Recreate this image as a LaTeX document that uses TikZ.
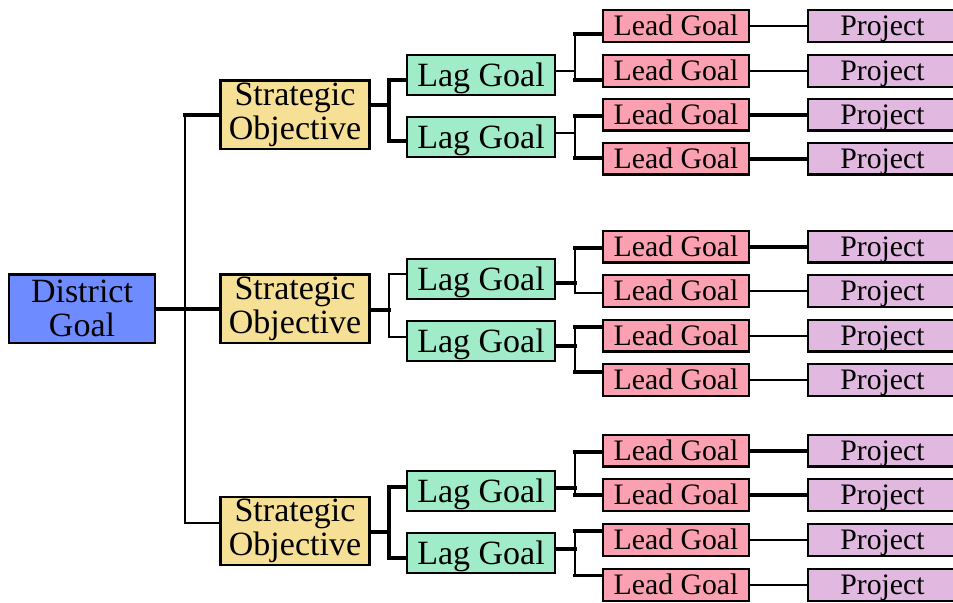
\documentclass[tikz,border=0pt]{standalone}
\usepackage{fontspec}
\setmainfont{Liberation Serif}
\usetikzlibrary{calc,backgrounds}
\definecolor{districtblue}{HTML}{6E8CFF}
\definecolor{objgold}{HTML}{F5E096}
\definecolor{lagmint}{HTML}{A0ECC8}
\definecolor{leadpink}{HTML}{FAA0B0}
\definecolor{projlilac}{HTML}{E0B8E0}
\begin{document}
\begin{tikzpicture}[x=0.75pt,y=-0.75pt,
  box/.style={draw=black,line width=1.6pt,rectangle,inner sep=0pt,align=center,text=black},
  big/.style={font=\fontsize{25.5}{25.5}\selectfont},
  small/.style={font=\fontsize{22.3}{22.3}\selectfont},
  oneline/.style={text height=#1,text depth=0pt},
  district/.style={box,big,fill=districtblue,minimum width=109.5pt,minimum height=51.4pt},
  strategic/.style={box,big,fill=objgold,minimum width=111.75pt,minimum height=51.4pt},
  lag/.style={box,big,oneline=16.9pt,fill=lagmint,minimum width=111pt,minimum height=30pt},
  lead/.style={box,small,oneline=14.8pt,fill=leadpink,minimum width=109.5pt,minimum height=23.6pt},
  project/.style={box,small,oneline=14.8pt,fill=projlilac,minimum width=111.75pt,minimum height=23.6pt},
  thk/.style={line width=2.8pt,line cap=rect},
  thn/.style={line width=1.5pt,line cap=rect}]
\useasboundingbox (0,0) rectangle (953,603);
\clip (0,0) rectangle (953,603);

% district goal and strategic objectives
\node[district] (dg) at (82,308.75) {District\\Goal};
\node[strategic] (so1) at (295,114.75) {Strategic\\Objective};
\node[strategic] (so2) at (295,308.75) {Strategic\\Objective};
\node[strategic] (so3) at (295,531) {Strategic\\Objective};

% lag goals
\foreach \n/\y in {1/75,2/137,3/279,4/341,5/491,6/552.75}
  \node[lag] (lag\n) at (481,\y) {Lag Goal};

% lead goals and projects
\foreach \n/\y in {1/26,2/71,3/114.75,4/158.75,5/246.75,6/291,7/335.75,8/380,9/450.75,10/495,11/540,12/585}{
  \node[lead] (lead\n) at (676,\y) {Lead Goal};
  \node[project] (prj\n) at (882.5,\y) {Project};
}

% bracket trunks
\coordinate (t0) at (185,0);
\coordinate (t1) at (389,0);
\coordinate (t2) at (575,0);

\begin{pgfonlayer}{background}
  % district goal to strategic objectives
  \draw[thk] (dg.east) -- (so2.west);
  \coordinate (d3) at ($(so3.west)+(0,-8.5)$);
  \draw[thn] (t0 |- so1.west) -- (t0 |- d3);
  \draw[thk] (t0 |- so1.west) -- (so1.west);
  \draw[thn] (t0 |- d3) -- (d3);

  % strategic objectives to lag goals
  \foreach \p/\po/\pw/\vw/\a/\ao/\aw/\b/\bo/\bw in {
      so1/-9.75/thk/thk/lag1/5/thk/lag2/3.7/thk,
      so2/1.25/thk/thn/lag3/-5/thn/lag4/-4/thn,
      so3/0.7/thk/thk/lag5/-4/thk/lag6/5.25/thk}{
    \coordinate (r) at ($(\p.east)+(0,\po)$);
    \coordinate (ea) at ($(\a.west)+(0,\ao)$);
    \coordinate (eb) at ($(\b.west)+(0,\bo)$);
    \draw[\pw] (r) -- (t1 |- r);
    \draw[\vw] (t1 |- ea) -- (t1 |- eb);
    \draw[\aw] (t1 |- ea) -- (ea);
    \draw[\bw] (t1 |- eb) -- (eb);
  }

  % lag goals to lead goals
  \foreach \p/\po/\pw/\a/\ao/\aw/\b/\bo/\bw in {
      lag1/-4.3/thn/lead1/8/thk/lead2/9/thk,
      lag2/-4.3/thn/lead3/1.25/thk/lead4/-0.75/thk,
      lag3/4/thk/lead5/1.25/thk/lead6/2/thn,
      lag4/5/thk/lead7/-8.75/thk/lead8/-8/thk,
      lag5/-3/thk/lead9/1/thk/lead10/0/thk,
      lag6/-3.75/thk/lead11/-9/thk/lead12/-9.5/thk}{
    \coordinate (r) at ($(\p.east)+(0,\po)$);
    \coordinate (ea) at ($(\a.west)+(0,\ao)$);
    \coordinate (eb) at ($(\b.west)+(0,\bo)$);
    \draw[\pw] (r) -- (t2 |- r);
    \draw[thn] (t2 |- ea) -- (t2 |- eb);
    \draw[\aw] (t2 |- ea) -- (ea);
    \draw[\bw] (t2 |- eb) -- (eb);
  }

  % lead goals to projects
  \foreach \i/\w in {1/thn,2/thn,3/thk,4/thk,5/thk,6/thn,7/thn,8/thn,9/thk,10/thk,11/thn,12/thn}
    \draw[\w] (lead\i.east) -- (prj\i.west);
\end{pgfonlayer}
\end{tikzpicture}
\end{document}
